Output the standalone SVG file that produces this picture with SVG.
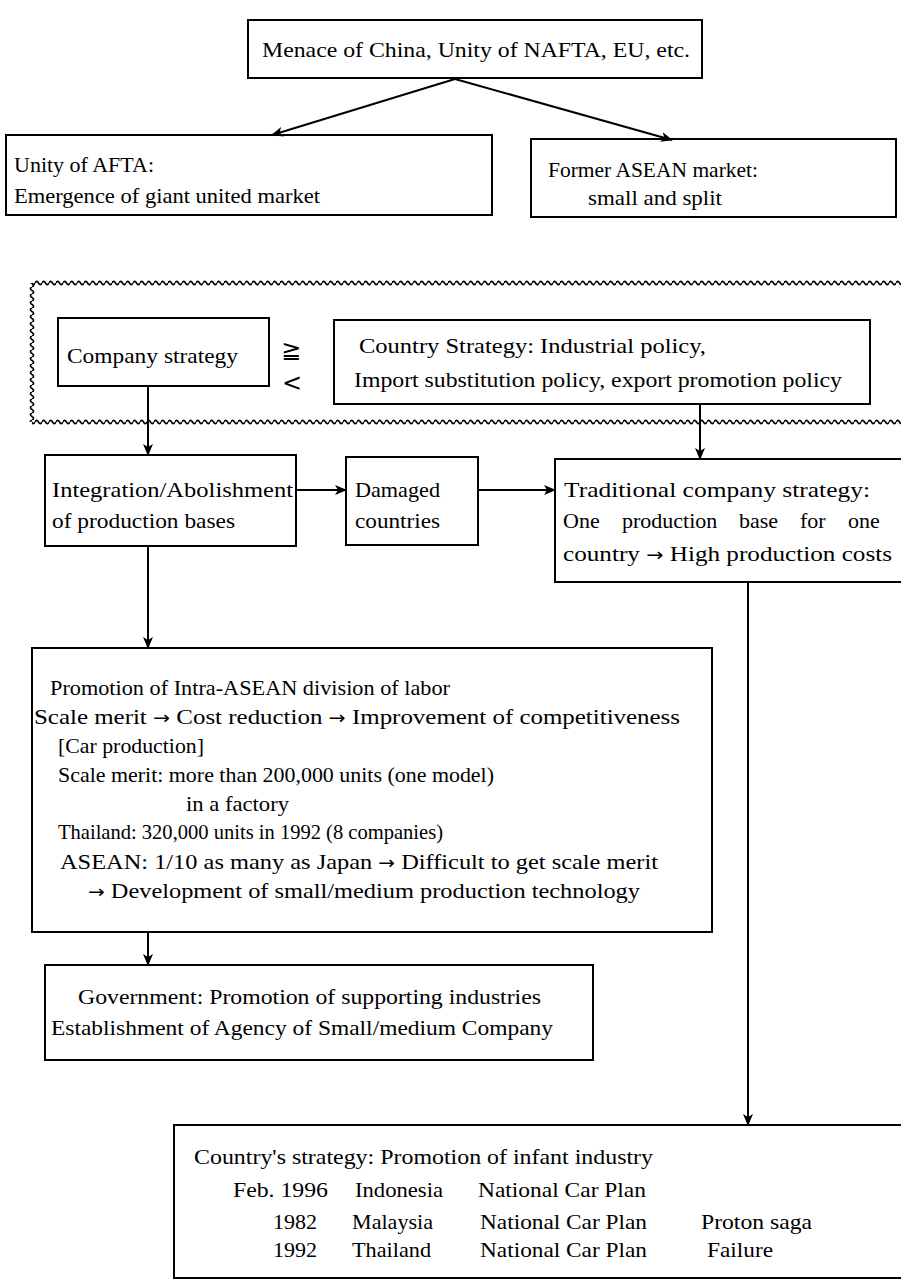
<svg xmlns="http://www.w3.org/2000/svg" width="901" height="1281" viewBox="0 0 901 1281">
<defs>
<style>
.box{fill:#fff;stroke:#000;stroke-width:2}
.t{font-family:"Liberation Serif","DejaVu Serif",serif;font-size:22px;fill:#000}
.ar{font-family:"DejaVu Sans",sans-serif;font-size:18px}
.rel{font-family:"DejaVu Sans",sans-serif;font-size:24px;fill:#000}
.lt{font-family:"DejaVu Sans",sans-serif;font-size:24px;fill:#000}
.con{stroke:#000;stroke-width:2;fill:none}
</style>
<marker id="ah" markerWidth="12" markerHeight="10" refX="11" refY="5" orient="auto" markerUnits="userSpaceOnUse">
<path d="M0,0 L12,5 L0,10 L3,5 Z" fill="#000"/>
</marker>
<pattern id="waveH" x="0" y="279" width="7" height="8" patternUnits="userSpaceOnUse">
<path d="M0,4 Q1.75,0.8 3.5,4 T7,4" stroke="#000" stroke-width="1.6" fill="none"/>
</pattern>
<pattern id="waveH2" x="0" y="418" width="7" height="8" patternUnits="userSpaceOnUse">
<path d="M0,4 Q1.75,0.8 3.5,4 T7,4" stroke="#000" stroke-width="1.6" fill="none"/>
</pattern>
<pattern id="waveV" x="28" y="0" width="8" height="7" patternUnits="userSpaceOnUse">
<path d="M4,0 Q0.8,1.75 4,3.5 T4,7" stroke="#000" stroke-width="1.6" fill="none"/>
</pattern>
</defs>
<rect width="901" height="1281" fill="#fff"/>

<g id="region">
<rect x="32" y="279" width="869" height="8" fill="url(#waveH)"/>
<rect x="32" y="418" width="869" height="8" fill="url(#waveH2)"/>
<rect x="28" y="283" width="8" height="139" fill="url(#waveV)"/>
</g>

<g id="n-top">
<rect class="box" x="248" y="20" width="454" height="58"/>
<text class="t" x="262" y="57" textLength="428" lengthAdjust="spacingAndGlyphs">Menace of China, Unity of NAFTA, EU, etc.</text>
</g>
<g id="n-afta">
<rect class="box" x="6" y="135" width="486" height="80"/>
<text class="t" x="14" y="172" textLength="140" lengthAdjust="spacingAndGlyphs">Unity of AFTA:</text>
<text class="t" x="14" y="203" textLength="306" lengthAdjust="spacingAndGlyphs">Emergence of giant united market</text>
</g>
<g id="n-former">
<rect class="box" x="531" y="139" width="365" height="78"/>
<text class="t" x="548" y="177" textLength="210" lengthAdjust="spacingAndGlyphs">Former ASEAN market:</text>
<text class="t" x="588" y="205" textLength="134" lengthAdjust="spacingAndGlyphs">small and split</text>
</g>
<g id="n-company">
<rect class="box" x="58" y="318" width="211" height="68"/>
<text class="t" x="67" y="363" textLength="171" lengthAdjust="spacingAndGlyphs">Company strategy</text>
</g>
<g id="n-relation">
<text class="rel" x="281" y="358">≧</text>
<text class="lt" x="282" y="391">&lt;</text>
</g>
<g id="n-country">
<rect class="box" x="334" y="320" width="536" height="84"/>
<text class="t" x="359" y="353" textLength="347" lengthAdjust="spacingAndGlyphs">Country Strategy: Industrial policy,</text>
<text class="t" x="354" y="387" textLength="488" lengthAdjust="spacingAndGlyphs">Import substitution policy, export promotion policy</text>
</g>
<g id="n-integration">
<rect class="box" x="45" y="455" width="251" height="91"/>
<text class="t" x="52" y="497" textLength="241" lengthAdjust="spacingAndGlyphs">Integration/Abolishment</text>
<text class="t" x="52" y="528" textLength="183" lengthAdjust="spacingAndGlyphs">of production bases</text>
</g>
<g id="n-damaged">
<rect class="box" x="346" y="457" width="132" height="88"/>
<text class="t" x="355" y="497" textLength="85" lengthAdjust="spacingAndGlyphs">Damaged</text>
<text class="t" x="355" y="528" textLength="85" lengthAdjust="spacingAndGlyphs">countries</text>
</g>
<g id="n-traditional">
<rect class="box" x="555" y="459" width="360" height="123"/>
<text class="t" x="564" y="497" textLength="306" lengthAdjust="spacingAndGlyphs">Traditional company strategy:</text>
<text class="t" x="563" y="528">One</text>
<text class="t" x="622" y="528">production</text>
<text class="t" x="739" y="528">base</text>
<text class="t" x="800" y="528">for</text>
<text class="t" x="848" y="528">one</text>
<text class="t" x="563" y="561" textLength="329" lengthAdjust="spacingAndGlyphs">country <tspan class="ar">→</tspan> High production costs</text>
</g>
<g id="n-promotion">
<rect class="box" x="32" y="648" width="680" height="284"/>
<text class="t" x="50" y="695" textLength="400" lengthAdjust="spacingAndGlyphs">Promotion of Intra-ASEAN division of labor</text>
<text class="t" x="34" y="724" textLength="646" lengthAdjust="spacingAndGlyphs">Scale merit <tspan class="ar">→</tspan> Cost reduction <tspan class="ar">→</tspan> Improvement of competitiveness</text>
<text class="t" x="58" y="753" textLength="146" lengthAdjust="spacingAndGlyphs">[Car production]</text>
<text class="t" x="58" y="782" textLength="436" lengthAdjust="spacingAndGlyphs">Scale merit: more than 200,000 units (one model)</text>
<text class="t" x="186" y="811" textLength="103" lengthAdjust="spacingAndGlyphs">in a factory</text>
<text class="t" x="58" y="839" textLength="385" lengthAdjust="spacingAndGlyphs">Thailand: 320,000 units in 1992 (8 companies)</text>
<text class="t" x="60" y="869" textLength="598" lengthAdjust="spacingAndGlyphs">ASEAN: 1/10 as many as Japan <tspan class="ar">→</tspan> Difficult to get scale merit</text>
<text class="t" x="88" y="898" textLength="552" lengthAdjust="spacingAndGlyphs"><tspan class="ar">→</tspan>  Development of small/medium production technology</text>
</g>
<g id="n-government">
<rect class="box" x="45" y="965" width="548" height="95"/>
<text class="t" x="78" y="1004" textLength="463" lengthAdjust="spacingAndGlyphs">Government: Promotion of supporting industries</text>
<text class="t" x="51" y="1035" textLength="502" lengthAdjust="spacingAndGlyphs">Establishment of Agency of Small/medium Company</text>
</g>
<g id="n-infant">
<rect class="box" x="174" y="1125" width="740" height="153"/>
<text class="t" x="194" y="1164" textLength="459" lengthAdjust="spacingAndGlyphs">Country's strategy: Promotion of infant industry</text>
<text class="t" x="233" y="1197" textLength="95" lengthAdjust="spacingAndGlyphs">Feb. 1996</text>
<text class="t" x="355" y="1197" textLength="88" lengthAdjust="spacingAndGlyphs">Indonesia</text>
<text class="t" x="478" y="1197" textLength="168" lengthAdjust="spacingAndGlyphs">National Car Plan</text>
<text class="t" x="273" y="1229" textLength="44" lengthAdjust="spacingAndGlyphs">1982</text>
<text class="t" x="352" y="1229" textLength="81" lengthAdjust="spacingAndGlyphs">Malaysia</text>
<text class="t" x="480" y="1229" textLength="167" lengthAdjust="spacingAndGlyphs">National Car Plan</text>
<text class="t" x="701" y="1229" textLength="111" lengthAdjust="spacingAndGlyphs">Proton saga</text>
<text class="t" x="273" y="1257" textLength="44" lengthAdjust="spacingAndGlyphs">1992</text>
<text class="t" x="352" y="1257" textLength="79" lengthAdjust="spacingAndGlyphs">Thailand</text>
<text class="t" x="480" y="1257" textLength="167" lengthAdjust="spacingAndGlyphs">National Car Plan</text>
<text class="t" x="707" y="1257" textLength="66" lengthAdjust="spacingAndGlyphs">Failure</text>
</g>

<g id="connectors">
<line class="con" x1="455" y1="79" x2="272" y2="135" marker-end="url(#ah)"/>
<line class="con" x1="455" y1="79" x2="672" y2="140" marker-end="url(#ah)"/>
<line class="con" x1="148" y1="386" x2="148" y2="455" marker-end="url(#ah)"/>
<line class="con" x1="700" y1="404" x2="700" y2="459" marker-end="url(#ah)"/>
<line class="con" x1="296" y1="490" x2="346" y2="490" marker-end="url(#ah)"/>
<line class="con" x1="478" y1="490" x2="555" y2="490" marker-end="url(#ah)"/>
<line class="con" x1="148" y1="546" x2="148" y2="648" marker-end="url(#ah)"/>
<line class="con" x1="748" y1="582" x2="748" y2="1125" marker-end="url(#ah)"/>
<line class="con" x1="148" y1="932" x2="148" y2="965" marker-end="url(#ah)"/>
</g>
</svg>
